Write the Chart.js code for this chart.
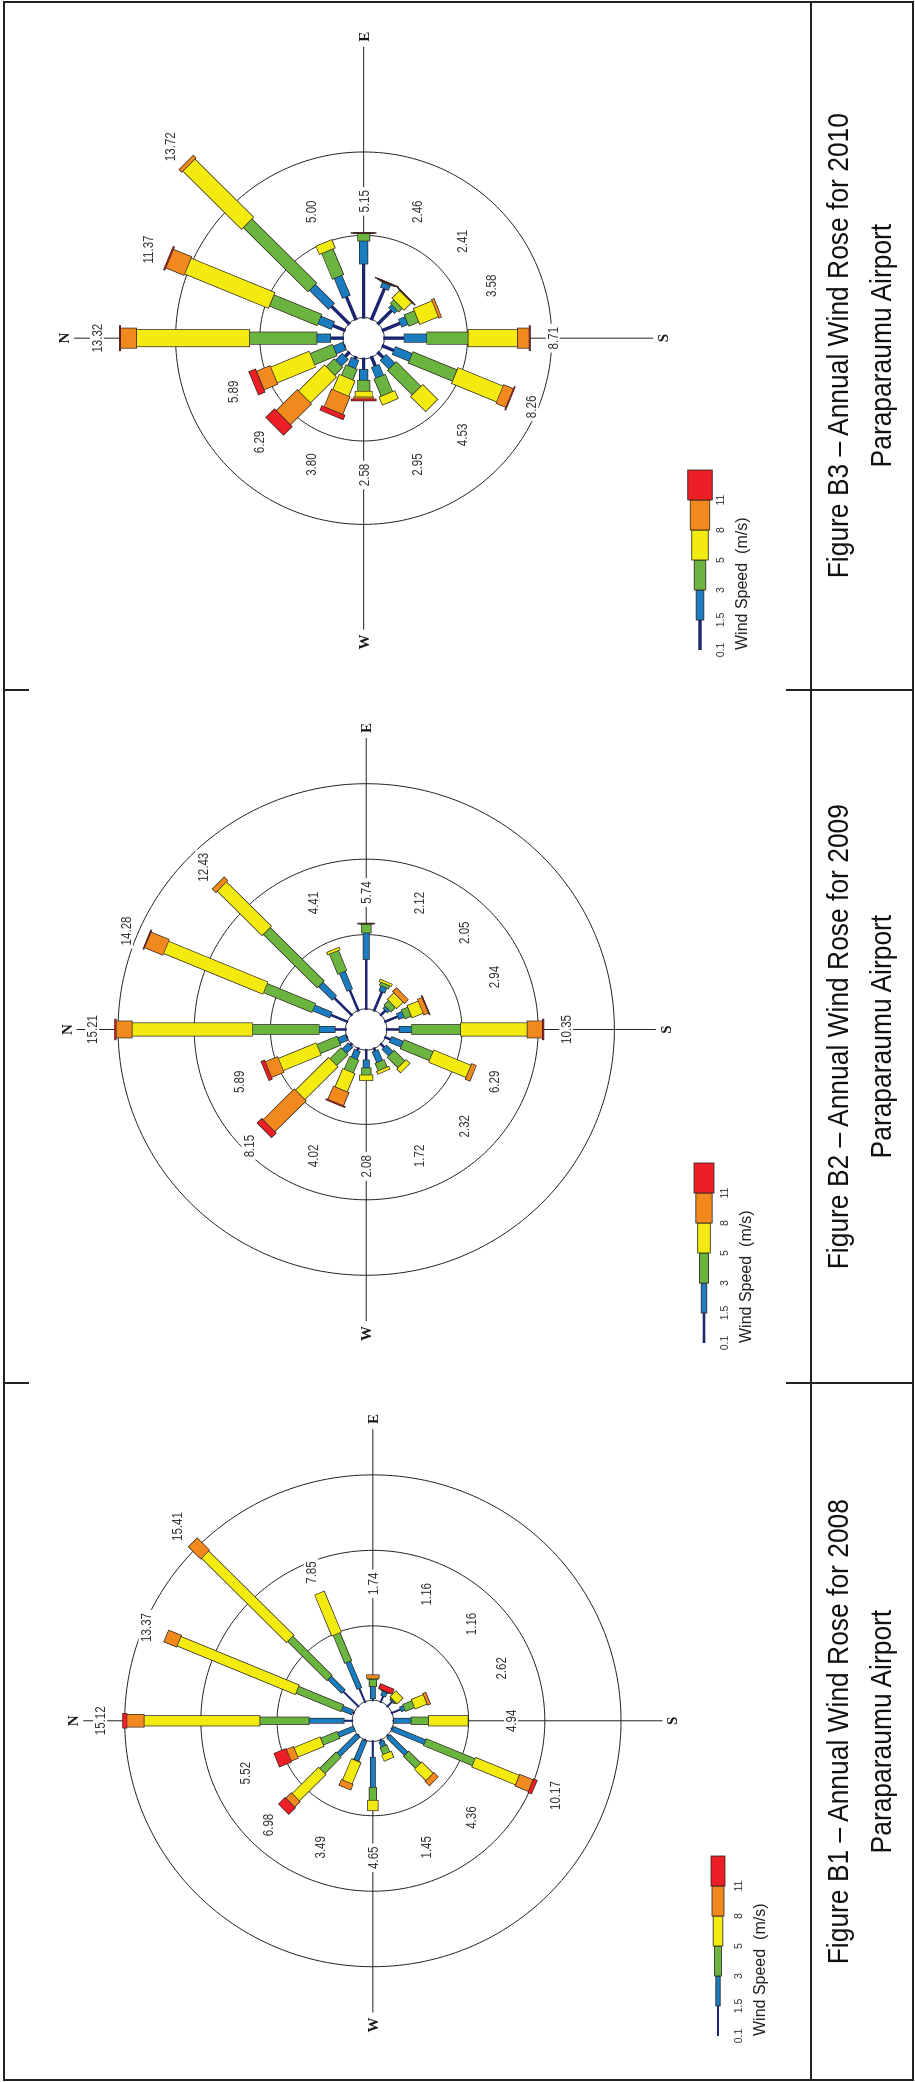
<!DOCTYPE html>
<html>
<head>
<meta charset="utf-8">
<title>Annual Wind Roses - Paraparaumu Airport</title>
<script src="https://cdn.jsdelivr.net/npm/chart.js@4.4.0/dist/chart.umd.min.js"></script>
<style>
  html, body { margin: 0; padding: 0; background: #fff; }
  body { width: 915px; height: 2082px; overflow: hidden; position: relative; }
  /* the sheet is laid out landscape and turned a quarter to the left */
  #sheet {
    position: absolute; left: 0; top: 0; width: 2082px; height: 915px;
    transform-origin: 0 0; transform: translate(0, 2082px) rotate(-90deg);
  }
  .panel { position: absolute; top: 0; }
  .rule { position: absolute; background: #222; }
  .frame { position: absolute; left: 1px; top: 3px; width: 2080px; height: 911px;
           border: 2.5px solid #222; box-sizing: border-box; }
  .caption { position: absolute; text-align: center; white-space: nowrap; color: #111;
             font-family: "Liberation Sans", Arial, sans-serif; font-size: 30px; line-height: 30px; }
  .caption span { display: inline-block; transform: scaleX(0.88); }
</style>
</head>
<body>
<div id="sheet">
  <canvas id="rose2008" class="panel" width="699" height="811" style="left:0px"></canvas>
  <canvas id="rose2009" class="panel" width="693" height="811" style="left:699px"></canvas>
  <canvas id="rose2010" class="panel" width="690" height="811" style="left:1392px"></canvas>

  <div class="frame"></div>
  <div class="rule" style="left:1px; top:809.5px; width:2080px; height:2.5px"></div>
  <div class="rule" style="left:697.5px; top:809.5px; width:2.5px; height:104px"></div>
  <div class="rule" style="left:1390.5px; top:809.5px; width:2.5px; height:104px"></div>
  <div class="rule" style="left:697.5px; top:3px; width:2.5px; height:26px"></div>
  <div class="rule" style="left:697.5px; top:786px; width:2.5px; height:25px"></div>
  <div class="rule" style="left:1390.5px; top:3px; width:2.5px; height:26px"></div>
  <div class="rule" style="left:1390.5px; top:786px; width:2.5px; height:25px"></div>

  <div class="caption" style="left:2px; width:697px; top:822.6px"><span>Figure B1 – Annual Wind Rose for 2008</span></div>
  <div class="caption" style="left:2px; width:697px; top:865.6px"><span>Paraparaumu Airport</span></div>
  <div class="caption" style="left:700px; width:691px; top:822.6px"><span>Figure B2 – Annual Wind Rose for 2009</span></div>
  <div class="caption" style="left:700px; width:691px; top:865.6px"><span>Paraparaumu Airport</span></div>
  <div class="caption" style="left:1393px; width:687px; top:822.6px"><span>Figure B3 – Annual Wind Rose for 2010</span></div>
  <div class="caption" style="left:1393px; width:687px; top:865.6px"><span>Paraparaumu Airport</span></div>
</div>

<script>
// ---------------------------------------------------------------------------
// Data (percent of hours per direction and wind speed class)
// ---------------------------------------------------------------------------
const DIRECTIONS = ['N', 'NNE', 'NE', 'ENE', 'E', 'ESE', 'SE', 'SSE',
                    'S', 'SSW', 'SW', 'WSW', 'W', 'WNW', 'NW', 'NNW'];
const SPEED_TICKS = ['0.1', '1.5', '3', '5', '8', '11'];
const COMPASS = ['N', 'E', 'S', 'W'];

// 2008
const TOTALS_2008 = [15.12, 13.37, 15.41, 7.85, 1.74, 1.16, 1.16, 2.62, 4.94, 10.17, 4.36, 1.45, 4.65, 3.49, 6.98, 5.52];
const CALM_2008   = [0.62, 0.17, 1.47, 1.05, 0.20, 0.50, 0.50, 0.70, 0.10, 0.12, 0.19, 0.20, 1.15, 0.16, 0.10, 0.05];
const LIGHT_2008  = [2.30, 0.73, 1.27, 1.90, 0.80, 0.30, 0.08, 0.25, 1.15, 2.31, 1.63, 0.35, 2.00, 1.40, 1.80, 1.12];
const GENTLE_2008 = [3.23, 3.20, 3.66, 2.00, 0.48, 0.02, 0.08, 0.65, 1.15, 3.47, 1.11, 0.51, 0.85, 0.04, 1.53, 1.18];
const MOD_2008    = [7.60, 8.40, 7.90, 2.90, 0.07, 0.02, 0.50, 0.85, 2.54, 3.10, 1.07, 0.39, 0.65, 1.52, 2.46, 1.85];
const FRESH_2008  = [1.12, 0.87, 1.11, 0, 0.19, 0.02, 0, 0.17, 0, 0.95, 0.36, 0, 0, 0.37, 0.51, 0.50];
const STRONG_2008 = [0.25, 0, 0, 0, 0, 0.30, 0, 0, 0, 0.22, 0, 0, 0, 0, 0.58, 0.82];
const RINGS_2008  = [5, 10, 15];

// 2009
const TOTALS_2009 = [15.21, 14.28, 12.43, 4.41, 5.74, 2.12, 2.05, 2.94, 10.35, 6.29, 2.32, 1.72, 2.08, 4.02, 8.15, 5.89];
const CALM_2009   = [0.78, 1.24, 1.69, 1.56, 3.37, 1.42, 0.50, 0.96, 0.89, 0.46, 0.40, 0.27, 0.75, 0.24, 0.20, 0.12];
const LIGHT_2009  = [1.04, 1.22, 1.27, 1.27, 1.76, 0.36, 0.20, 0.39, 0.82, 0.83, 0.61, 0.76, 0.53, 0.56, 0.56, 0.56];
const GENTLE_2009 = [4.38, 3.44, 5.01, 1.44, 0.58, 0.22, 0.42, 0.46, 3.22, 2.06, 0.99, 0.53, 0.47, 0.92, 1.03, 1.44];
const MOD_2009    = [7.90, 7.05, 4.16, 0.14, 0.02, 0.12, 0.61, 0.79, 4.37, 2.65, 0.32, 0.16, 0.33, 1.31, 3.07, 2.68];
const FRESH_2009  = [1.05, 1.30, 0.30, 0, 0.01, 0, 0.32, 0.32, 1.00, 0.29, 0, 0, 0, 0.95, 2.89, 0.88];
const STRONG_2009 = [0.06, 0.03, 0, 0, 0, 0, 0, 0.02, 0.05, 0, 0, 0, 0, 0.04, 0.40, 0.21];
const RINGS_2009  = [5, 10, 15];

// 2010
const TOTALS_2010 = [13.32, 11.37, 13.72, 5.00, 5.15, 2.46, 2.41, 3.58, 8.71, 8.26, 4.53, 2.95, 2.58, 3.80, 6.29, 5.89];
const CALM_2010   = [0.82, 0.83, 1.55, 1.54, 3.30, 2.06, 1.20, 1.19, 1.25, 0.79, 0.49, 0.66, 0.73, 0.20, 0.40, 0.10];
const LIGHT_2010  = [0.81, 0.87, 1.61, 1.29, 1.38, 0.32, 0.24, 0.42, 1.35, 1.08, 0.73, 0.69, 0.65, 0.53, 0.57, 0.62];
const GENTLE_2010 = [4.00, 3.06, 5.44, 1.67, 0.44, 0.04, 0.30, 0.64, 2.46, 2.84, 2.08, 1.12, 0.66, 0.69, 0.67, 1.43];
const MOD_2010    = [6.70, 5.39, 4.92, 0.50, 0.01, 0.02, 0.63, 1.20, 2.92, 2.89, 1.23, 0.48, 0.34, 0.99, 2.19, 2.47];
const FRESH_2010  = [0.95, 1.17, 0.20, 0, 0.01, 0.01, 0.03, 0.13, 0.70, 0.63, 0, 0, 0.12, 1.14, 1.77, 0.88];
const STRONG_2010 = [0.04, 0.05, 0, 0, 0.01, 0.01, 0.01, 0, 0.03, 0.03, 0, 0, 0.08, 0.25, 0.69, 0.39];
const RINGS_2010  = [5, 10];

// ---------------------------------------------------------------------------
// Look
// ---------------------------------------------------------------------------
const CLASS_COLORS = ['#1c2670', '#1a7dc1', '#6cb440', '#f3ea10', '#f2891f', '#ec1f27'];
const OUTLINE = '#2b2420';
const HOLE_PX = 20.7;
const AXIS_NS_PX = 306;
const AXIS_EW_PX = 311;
const LABEL_MIN_PX = 146;
const LABEL_GAP_PX = 24;
const OUTLINE_EXT_PX = 0.7;
const LEGEND_SEG_PX = 30;
const SANS = '"Liberation Sans", Arial, sans-serif';

const ROSES = [
    { id: 'rose2008', cx: 362, cy: 371, pxPerPct: 16.1, rings: RINGS_2008, totals: TOTALS_2008,
      classes: [CALM_2008, LIGHT_2008, GENTLE_2008, MOD_2008, FRESH_2008, STRONG_2008],
      widths: [2, 4.4, 6.8, 9.7, 12, 14], legendX: 46, legendY: 718 },
    { id: 'rose2009', cx: 354, cy: 364, pxPerPct: 16.1, rings: RINGS_2009, totals: TOTALS_2009,
      classes: [CALM_2009, LIGHT_2009, GENTLE_2009, MOD_2009, FRESH_2009, STRONG_2009],
      widths: [2.6, 5.6, 9.2, 12.6, 16.3, 20], legendX: 40, legendY: 704 },
    { id: 'rose2010', cx: 352.3, cy: 361.3, pxPerPct: 17.8, rings: RINGS_2010, totals: TOTALS_2010,
      classes: [CALM_2010, LIGHT_2010, GENTLE_2010, MOD_2010, FRESH_2010, STRONG_2010],
      widths: [3.4, 7.7, 11.6, 16.5, 19.5, 24.5], legendX: 40, legendY: 700 }
];

/**
 * Point at radius r (data units) on compass bearing deg, north up, east right
 */
function polar(r, deg) {
    const a = deg * Math.PI / 180;
    return { x: r * Math.sin(a), y: r * Math.cos(a) };
}

const gap = () => ({ x: null, y: null });

function lineSet(points, color, width) {
    return {
        data: points,
        showLine: true,
        spanGaps: false,
        borderColor: color,
        borderWidth: width,
        borderCapStyle: 'butt',
        borderJoinStyle: 'bevel',
        // a dash list keeps Chart.js off its column-merging fast path,
        // which mangles short spokes that are not sorted along x
        borderDash: [100000, 0],
        pointRadius: 0,
        pointHoverRadius: 0,
        fill: false
    };
}

/**
 * Rings, axes, calm circle and the stacked speed-class spokes
 */
function buildDatasets(rose) {
    const k = rose.pxPerPct;
    const holeU = HOLE_PX / k;
    const ext = OUTLINE_EXT_PX / k;
    const sets = [];

    const ringPts = [];
    rose.rings.forEach(v => {
        for (let a = 0; a <= 360; a += 1.5) ringPts.push(polar(holeU + v, a));
        ringPts.push(gap());
    });
    sets.push(lineSet(ringPts, '#222', 1));

    const ns = AXIS_NS_PX / k, ew = AXIS_EW_PX / k;
    sets.push(lineSet([polar(ns, 0), polar(ns, 180), gap(), polar(ew, 90), polar(ew, 270)], '#222', 1));

    sets.push({
        data: [{ x: 0, y: 0 }], showLine: false,
        pointRadius: HOLE_PX, pointHoverRadius: HOLE_PX,
        pointBackgroundColor: '#fff', pointBorderColor: '#333', pointBorderWidth: 1
    });

    const cum = DIRECTIONS.map(() => 0);
    rose.classes.forEach((vals, c) => {
        const body = [], edge = [];
        vals.forEach((v, i) => {
            if (v <= 0) return;
            const deg = i * 22.5;
            const r0 = holeU + cum[i];
            const r1 = r0 + v;
            cum[i] += v;
            body.push(polar(r0, deg), polar(r1, deg), gap());
            edge.push(polar(r0 - ext, deg), polar(r1 + ext, deg), gap());
        });
        if (c > 0) sets.push(lineSet(edge, OUTLINE, rose.widths[c] + 1.4));
        sets.push(lineSet(body, CLASS_COLORS[c], rose.widths[c]));
    });

    // first pushed is drawn first
    sets.forEach((s, i) => { s.order = sets.length - i; });
    return sets;
}

/**
 * Percent labels, compass letters and the speed legend
 */
function decorPlugin(rose) {
    return {
        id: 'roseDecor',
        afterDatasetsDraw(chart) {
            const ctx = chart.ctx;
            const xs = chart.scales.x, ys = chart.scales.y;
            const k = rose.pxPerPct;
            const toPx = p => [xs.getPixelForValue(p.x), ys.getPixelForValue(p.y)];

            ctx.save();

            // percentage per direction
            ctx.font = '15px ' + SANS;
            ctx.textAlign = 'center';
            ctx.textBaseline = 'middle';
            rose.totals.forEach((t, i) => {
                const rPx = Math.max(LABEL_MIN_PX, HOLE_PX + k * t + LABEL_GAP_PX);
                const [px, py] = toPx(polar(rPx / k, i * 22.5));
                const txt = t.toFixed(2);
                ctx.save();
                ctx.translate(px, py);
                ctx.scale(0.77, 1);
                const w = ctx.measureText(txt).width;
                ctx.fillStyle = '#fff';
                ctx.fillRect(-w / 2 - 4, -7, w + 8, 14);
                ctx.fillStyle = '#333';
                ctx.fillText(txt, 0, 1);
                ctx.restore();
            });

            // compass letters
            ctx.font = 'bold 15px "Liberation Serif", "Times New Roman", serif';
            ctx.fillStyle = '#1a1a1a';
            let p = toPx(polar(AXIS_NS_PX / k, 0));
            ctx.textAlign = 'center'; ctx.textBaseline = 'alphabetic';
            ctx.fillText(COMPASS[0], p[0], p[1] - 5);
            p = toPx(polar(AXIS_NS_PX / k, 180));
            ctx.fillText(COMPASS[2], p[0], p[1] + 15);
            ctx.textBaseline = 'middle';
            p = toPx(polar(AXIS_EW_PX / k, 90));
            ctx.textAlign = 'left';
            ctx.fillText(COMPASS[1], p[0] + 5, p[1] + 1);
            p = toPx(polar(AXIS_EW_PX / k, 270));
            ctx.textAlign = 'right';
            ctx.fillText(COMPASS[3], p[0] - 5, p[1] + 1);

            // legend
            const lx = rose.legendX, ly = rose.legendY;
            ctx.lineWidth = 0.8;
            ctx.strokeStyle = OUTLINE;
            CLASS_COLORS.forEach((col, c) => {
                const w = rose.widths[c];
                const x = lx + c * LEGEND_SEG_PX;
                ctx.fillStyle = col;
                ctx.fillRect(x, ly - w / 2, LEGEND_SEG_PX, w);
                if (c > 0) ctx.strokeRect(x, ly - w / 2, LEGEND_SEG_PX, w);
            });
            ctx.fillStyle = '#333';
            ctx.font = '10.5px ' + SANS;
            ctx.textAlign = 'center';
            ctx.textBaseline = 'middle';
            SPEED_TICKS.forEach((s, c) => ctx.fillText(s, lx + c * LEGEND_SEG_PX, ly + 21));
            ctx.fillStyle = '#222';
            ctx.font = '16px ' + SANS;
            ctx.textAlign = 'left';
            ctx.textBaseline = 'alphabetic';
            ctx.fillText('Wind Speed  (m/s)', lx, ly + 47);

            ctx.restore();
        }
    };
}

function drawRose(rose) {
    const canvas = document.getElementById(rose.id);
    const k = rose.pxPerPct;
    const W = canvas.width, H = canvas.height;
    return new Chart(canvas, {
        type: 'scatter',
        data: { datasets: buildDatasets(rose) },
        options: {
            responsive: false,
            animation: false,
            devicePixelRatio: 1,
            events: [],
            layout: { padding: 0 },
            plugins: { legend: { display: false }, tooltip: { enabled: false } },
            scales: {
                x: { type: 'linear', display: false, bounds: 'data', grace: 0,
                     min: -rose.cx / k, max: (W - rose.cx) / k },
                y: { type: 'linear', display: false, bounds: 'data', grace: 0,
                     min: -(H - rose.cy) / k, max: rose.cy / k }
            }
        },
        plugins: [decorPlugin(rose)]
    });
}

ROSES.forEach(drawRose);
</script>
</body>
</html>
